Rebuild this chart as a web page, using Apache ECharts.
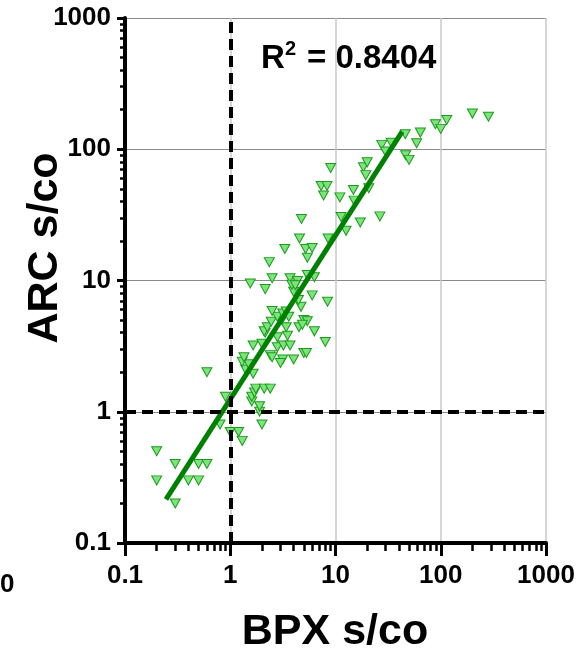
<!DOCTYPE html>
<html><head><meta charset="utf-8">
<script src="https://cdn.jsdelivr.net/npm/echarts@6/dist/echarts.min.js"></script>
<style>html,body{margin:0;padding:0;background:#fff}#c{width:588px;height:659px}</style>
</head><body><div id="c"></div>
<script>
// BPX s/co (x) and ARC s/co (y) values
const bpx = [0.2,0.2,0.3,0.3,0.4,0.5,0.5,0.6,0.6,0.8,0.9,1.0,1.2,1.3,2.0,1.9,1.9,1.6,1.6,1.7,1.75,2.1,2.4,1.65,1.4,1.5,1.3,1.35,1.65,2.0,2.15,2.4,2.5,2.8,2.8,3.2,3.7,3.5,3.15,3.0,4.0,5.0,5.3,8.0,6.3,2.1,2.25,3.4,4.5,2.45,3.1,2.8,3.6,3.15,3.4,2.5,5.0,5.4,4.85,4.7,4.45,4.0,6.0,8.4,3.7,4.35,3.85,4.15,5.4,6.3,2.5,1.55,2.15,2.35,3.3,5.2,6.0,5.4,4.55,8.5,4.75,11.3,12.6,17.2,26.4,11,15,14.8,20.7,7.3,8.3,7.7,9,18.4,20,19.4,27.5,29.8,33.8,46,46.4,50,59,64,89,100,114,200,284];
const arc = [0.5,0.3,0.4,0.2,0.3,0.4,0.3,0.4,2.0,0.8,1.3,0.7,0.7,0.6,0.8,1.0,1.1,1.2,1.3,1.4,1.5,1.5,1.5,1.95,2.1,2.3,2.4,2.6,3.2,3.3,4.0,2.7,2.6,3.1,3.7,3.2,3.2,3.8,2.5,2.35,2.5,2.8,2.8,3.4,4.1,4.1,4.4,4.4,4.4,4.85,5.0,5.3,5.3,5.6,5.8,5.85,5.0,4.9,4.6,6.3,7.1,8.2,7.7,6.9,10.4,9.9,9.3,9.2,11,10.6,10.4,9.5,8.6,13.8,17.4,17.4,17.7,14.9,20.9,20.9,29.4,30.5,23.9,27.7,30.8,43,40.6,49,50.5,52.5,52.5,44.5,72,73,79.5,63.5,108,96,112,130,90,83,111,134,155,143,167,187,177];
// regression line end points
const fitX = [0.245, 43];
const fitY = [0.215, 136];
// reference lines
const refX = 1;
const refY = 1;
// axis ticks
const majorTicks = [0.1, 1, 10, 100, 1000];
const minorTicks = [0.2,0.3,0.4,0.5,0.6,0.7,0.8,0.9,2,3,4,5,6,7,8,9,20,30,40,50,60,70,80,90,200,300,400,500,600,700,800,900];
const xTitle = 'BPX s/co';
const yTitle = 'ARC s/co';
const r2Text = '= 0.8404';

const FONT = '"Liberation Sans", Arial, sans-serif';
const chart = echarts.init(document.getElementById('c'));
const fmt = v => String(+(+v).toPrecision(3));
function mainAxis(isX) {
  return {
    type: 'log', logBase: 10, min: 0.1, max: 1000, gridIndex: 0,
    axisLine: { show: true, onZero: false, lineStyle: { color: '#000', width: 4 } },
    axisTick: { show: true, inside: false, length: isX ? 13 : 8, customValues: majorTicks, lineStyle: { color: '#000', width: 3 } },
    axisLabel: { show: true, customValues: majorTicks, formatter: fmt, margin: isX ? 20 : 14, color: '#000', fontFamily: FONT, fontWeight: 'bold', fontSize: 26 },
    splitLine: { show: true, lineStyle: { color: isX ? '#c8c8c8' : '#8a8a8a', width: isX ? 1.5 : 1 } },
    minorTick: { show: false }, minorSplitLine: { show: false }
  };
}
function minorAxis() {
  return {
    type: 'log', logBase: 10, min: 0.1, max: 1000, gridIndex: 0,
    axisLine: { show: false, onZero: false },
    axisTick: { show: true, inside: false, length: 7, customValues: minorTicks, lineStyle: { color: '#000', width: 2.5 } },
    axisLabel: { show: false },
    splitLine: { show: false }
  };
}
const xMain = mainAxis(true), yMain = mainAxis(false);
const xMinor = minorAxis(), yMinor = minorAxis();
xMinor.axisTick.length = 8; yMinor.axisTick.length = 5;

chart.setOption({
  animation: false,
  backgroundColor: '#fff',
  grid: { left: 125, right: 42, top: 18, bottom: 116, containLabel: false },
  xAxis: [xMain, Object.assign(xMinor, { position: 'bottom' })],
  yAxis: [yMain, Object.assign(yMinor, { position: 'left' })],
  series: [
    {
      type: 'line', data: [], z: 1, silent: true,
      markLine: {
        silent: true, symbol: 'none', animation: false,
        label: { show: false },
        lineStyle: { color: '#000', width: 4, type: [11, 6] },
        data: [{ xAxis: refX }, { yAxis: refY }]
      }
    },
    {
      type: 'scatter', z: 2,
      symbol: 'path://M0,0 L10,0 L5,9 Z', symbolSize: [10, 9],
      itemStyle: { color: '#7be57b', borderColor: '#1c9a1c', borderWidth: 1, opacity: 1 },
      data: bpx.map((x, i) => [x, arc[i]])
    },
    {
      type: 'line', z: 3, symbol: 'none', silent: true,
      lineStyle: { color: '#008000', width: 5 },
      data: fitX.map((x, i) => [x, fitY[i]])
    }
  ],
  graphic: [
    { type: 'text', position: [335, 632], style: { text: xTitle, align: 'center', verticalAlign: 'middle', fontFamily: FONT, fontWeight: 'bold', fontSize: 43, fill: '#000' } },
    { type: 'text', rotation: Math.PI / 2, position: [45, 248], style: { text: yTitle, align: 'center', verticalAlign: 'middle', fontFamily: FONT, fontWeight: 'bold', fontSize: 43, fill: '#000' } },
    { type: 'text', position: [261, 59], style: { text: 'R', align: 'left', verticalAlign: 'middle', fontFamily: FONT, fontWeight: 'bold', fontSize: 33, fill: '#000' } },
    { type: 'text', position: [285, 49], style: { text: '2', align: 'left', verticalAlign: 'middle', fontFamily: FONT, fontWeight: 'bold', fontSize: 20, fill: '#000' } },
    { type: 'text', position: [307, 59], style: { text: r2Text, align: 'left', verticalAlign: 'middle', fontFamily: FONT, fontWeight: 'bold', fontSize: 33, fill: '#000' } },
    { type: 'text', position: [0, 585], style: { text: '0', align: 'left', verticalAlign: 'middle', fontFamily: FONT, fontWeight: 'bold', fontSize: 26, fill: '#000' } }
  ]
});
</script></body></html>
